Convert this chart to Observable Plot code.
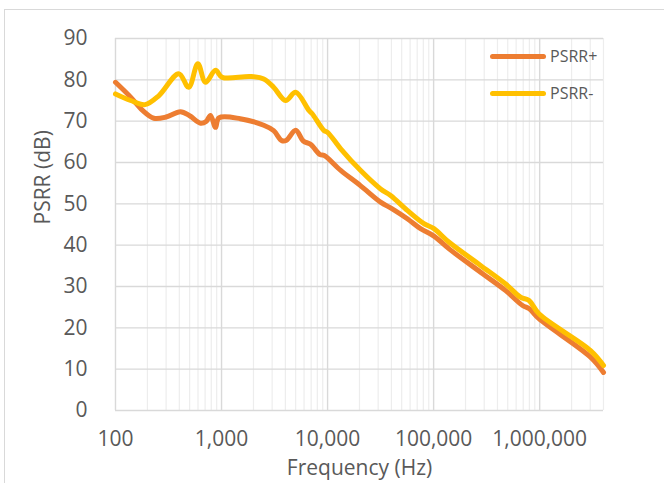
<!DOCTYPE html>
<html>
<head>
<meta charset="utf-8">
<script src="https://cdn.jsdelivr.net/npm/d3@7"></script>
<script src="https://cdn.jsdelivr.net/npm/@observablehq/plot@0.6"></script>
<style>
  html, body { margin: 0; padding: 0; background: #fff; overflow: hidden; }
  #wrap { position: relative; width: 664px; height: 483px; overflow: hidden; }
  #border { position: absolute; left: 4px; top: 9px; width: 800px; height: 800px; border: 1.5px solid #d9d9d9; box-sizing: border-box; }
  #chart { position: absolute; left: 0; top: 0; }
  .leg { position: absolute; font-family: "Open Sans", sans-serif; font-size: 16px; color: #595959; display: flex; align-items: center; height: 20px; }
  .leg .sw { display: inline-block; width: 56px; height: 5px; border-radius: 3px; margin-right: 4px; }
</style>
</head>
<body>
<div id="wrap">
  <div id="border"></div>
  <div id="chart"></div>
  <div class="leg" style="left:490px; top:46px;"><span class="sw" style="background:#ED7D31"></span><span>PSRR+</span></div>
  <div class="leg" style="left:490px; top:83px;"><span class="sw" style="background:#FFC000"></span><span>PSRR-</span></div>
</div>
<script>
// Series: PSRR+ (orange)
const plusFreq = [100, 139, 180, 230, 300, 410, 500, 635, 720, 787, 877, 945, 1500, 2500, 3100, 3700, 4100, 5000, 5900, 6900, 8500, 9300, 13300, 20400, 31600, 40700, 56500, 75300, 100700, 140000, 290000, 478000, 690000, 800000, 985000, 3020000, 4000000];
const plusDb   = [79.4, 75.8, 72.6, 70.7, 71.0, 72.3, 71.3, 69.5, 70.0, 71.4, 68.5, 70.8, 70.6, 69.0, 67.7, 65.3, 65.4, 67.8, 65.2, 64.4, 61.9, 61.7, 58.1, 54.4, 50.4, 48.8, 46.4, 44.0, 42.2, 39.1, 33.1, 29.0, 25.4, 24.6, 22.2, 12.9, 9.2];
// Series: PSRR- (yellow)
const minusFreq = [100, 139, 190, 257, 395, 490, 598, 706, 877, 1014, 1880, 2500, 3100, 4020, 5000, 6670, 7160, 9200, 10000, 13300, 20400, 31600, 39300, 56500, 81000, 100700, 140000, 277000, 478000, 661000, 794000, 985000, 3020000, 4000000];
const minusDb   = [76.6, 75.0, 74.0, 76.2, 81.5, 78.2, 83.9, 79.4, 82.3, 80.6, 80.8, 80.2, 78.2, 75.0, 77.0, 72.6, 71.8, 67.8, 67.3, 63.3, 58.1, 53.6, 52.0, 48.4, 45.2, 44.0, 40.7, 35.1, 30.6, 27.4, 26.6, 23.4, 14.5, 10.9];

// Axis ticks and titles
const xMajor = [100, 1000, 10000, 100000, 1000000];
const xMinor = [200, 300, 400, 500, 600, 700, 800, 900,
                2000, 3000, 4000, 5000, 6000, 7000, 8000, 9000,
                20000, 30000, 40000, 50000, 60000, 70000, 80000, 90000,
                200000, 300000, 400000, 500000, 600000, 700000, 800000, 900000,
                2000000, 3000000, 4000000];
const yTicks = [0, 10, 20, 30, 40, 50, 60, 70, 80, 90];
const xTitle = ["Frequency (Hz)"];
const yTitle = ["PSRR (dB)"];

const plus = plusFreq.map((f, i) => ({f, v: plusDb[i]}));
const minus = minusFreq.map((f, i) => ({f, v: minusDb[i]}));

const fmt = d3.format(",");

const chart = Plot.plot({
  width: 664,
  height: 483,
  marginLeft: 115,
  marginRight: 61,
  marginTop: 38,
  marginBottom: 73,
  style: {fontFamily: "'Open Sans', sans-serif", color: "#595959", background: "transparent", overflow: "visible"},
  x: {type: "log", domain: [100, 4000000]},
  y: {domain: [0, 90]},
  marks: [
    Plot.ruleX(xMinor, {stroke: "#ededed", strokeWidth: 1.2}),
    Plot.ruleX(xMajor, {stroke: "#d9d9d9", strokeWidth: 1.4}),
    Plot.ruleY(yTicks, {stroke: "#d9d9d9", strokeWidth: 1.4}),
    Plot.line(plus, {x: "f", y: "v", stroke: "#ED7D31", strokeWidth: 5, curve: "catmull-rom", strokeLinecap: "round", strokeLinejoin: "round"}),
    Plot.line(minus, {x: "f", y: "v", stroke: "#FFC000", strokeWidth: 5, curve: "catmull-rom", strokeLinecap: "round", strokeLinejoin: "round"}),
    Plot.axisX({ticks: xMajor, tickFormat: d => fmt(d), tickSize: 0, tickPadding: 21, fontSize: 21, label: null}),
    Plot.axisY({ticks: yTicks, tickSize: 0, tickPadding: 28, fontSize: 21, label: null}),
    Plot.text(xTitle, {text: d => d, frameAnchor: "bottom", lineAnchor: "middle", dy: 58, fontSize: 21, fill: "#595959"}),
    Plot.text(yTitle, {text: d => d, frameAnchor: "left", lineAnchor: "middle", dx: -72, rotate: -90, fontSize: 21, fill: "#595959"})
  ]
});
document.getElementById("chart").appendChild(chart);
</script>
</body>
</html>
